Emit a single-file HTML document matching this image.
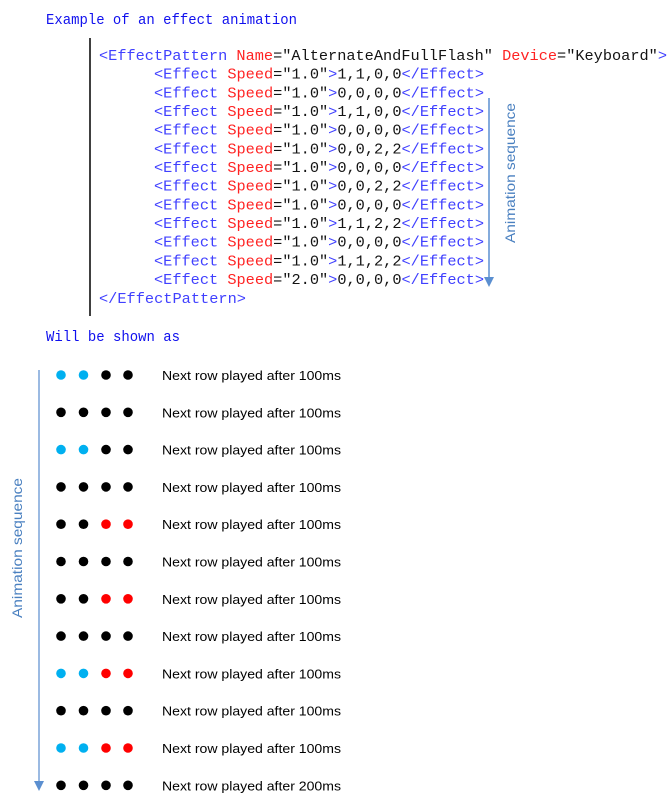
<!DOCTYPE html>
<html><head><meta charset="utf-8"><style>
html,body{margin:0;padding:0;background:#fff;}
svg{display:block;}
.code{font-family:"Liberation Mono",monospace;font-size:15.2px;}
.t{fill:#3030ff}.a{fill:#ff1010}.v{fill:#000}
.lab{font-family:"Liberation Sans",sans-serif;font-size:13px;fill:#000}
.seq{font-family:"Liberation Sans",sans-serif;font-size:14px;fill:#4a80c0}
.hd{font-family:"Liberation Mono",monospace;font-size:15px;fill:#1010ee}
</style></head><body>
<svg width="670" height="796" viewBox="0 0 670 796" xmlns="http://www.w3.org/2000/svg">
<text class="hd" x="46" y="24" textLength="251" lengthAdjust="spacingAndGlyphs">Example of an effect animation</text>
<line x1="90" y1="38" x2="90" y2="316" stroke="#000" stroke-width="1.5"/>
<g class="code" opacity="0.92">
<text x="99" y="60" textLength="568" lengthAdjust="spacingAndGlyphs"><tspan class="t">&lt;EffectPattern</tspan><tspan class="v"> </tspan><tspan class="a">Name</tspan><tspan class="v">="AlternateAndFullFlash" </tspan><tspan class="a">Device</tspan><tspan class="v">="Keyboard"</tspan><tspan class="t">&gt;</tspan></text>
<text x="154" y="78.7" textLength="330" lengthAdjust="spacingAndGlyphs"><tspan class="t">&lt;Effect </tspan><tspan class="a">Speed</tspan><tspan class="v">="1.0"</tspan><tspan class="t">&gt;</tspan><tspan class="v">1,1,0,0</tspan><tspan class="t">&lt;/Effect&gt;</tspan></text>
<text x="154" y="97.3" textLength="330" lengthAdjust="spacingAndGlyphs"><tspan class="t">&lt;Effect </tspan><tspan class="a">Speed</tspan><tspan class="v">="1.0"</tspan><tspan class="t">&gt;</tspan><tspan class="v">0,0,0,0</tspan><tspan class="t">&lt;/Effect&gt;</tspan></text>
<text x="154" y="116" textLength="330" lengthAdjust="spacingAndGlyphs"><tspan class="t">&lt;Effect </tspan><tspan class="a">Speed</tspan><tspan class="v">="1.0"</tspan><tspan class="t">&gt;</tspan><tspan class="v">1,1,0,0</tspan><tspan class="t">&lt;/Effect&gt;</tspan></text>
<text x="154" y="134.7" textLength="330" lengthAdjust="spacingAndGlyphs"><tspan class="t">&lt;Effect </tspan><tspan class="a">Speed</tspan><tspan class="v">="1.0"</tspan><tspan class="t">&gt;</tspan><tspan class="v">0,0,0,0</tspan><tspan class="t">&lt;/Effect&gt;</tspan></text>
<text x="154" y="153.3" textLength="330" lengthAdjust="spacingAndGlyphs"><tspan class="t">&lt;Effect </tspan><tspan class="a">Speed</tspan><tspan class="v">="1.0"</tspan><tspan class="t">&gt;</tspan><tspan class="v">0,0,2,2</tspan><tspan class="t">&lt;/Effect&gt;</tspan></text>
<text x="154" y="172" textLength="330" lengthAdjust="spacingAndGlyphs"><tspan class="t">&lt;Effect </tspan><tspan class="a">Speed</tspan><tspan class="v">="1.0"</tspan><tspan class="t">&gt;</tspan><tspan class="v">0,0,0,0</tspan><tspan class="t">&lt;/Effect&gt;</tspan></text>
<text x="154" y="190.7" textLength="330" lengthAdjust="spacingAndGlyphs"><tspan class="t">&lt;Effect </tspan><tspan class="a">Speed</tspan><tspan class="v">="1.0"</tspan><tspan class="t">&gt;</tspan><tspan class="v">0,0,2,2</tspan><tspan class="t">&lt;/Effect&gt;</tspan></text>
<text x="154" y="209.3" textLength="330" lengthAdjust="spacingAndGlyphs"><tspan class="t">&lt;Effect </tspan><tspan class="a">Speed</tspan><tspan class="v">="1.0"</tspan><tspan class="t">&gt;</tspan><tspan class="v">0,0,0,0</tspan><tspan class="t">&lt;/Effect&gt;</tspan></text>
<text x="154" y="228" textLength="330" lengthAdjust="spacingAndGlyphs"><tspan class="t">&lt;Effect </tspan><tspan class="a">Speed</tspan><tspan class="v">="1.0"</tspan><tspan class="t">&gt;</tspan><tspan class="v">1,1,2,2</tspan><tspan class="t">&lt;/Effect&gt;</tspan></text>
<text x="154" y="246.7" textLength="330" lengthAdjust="spacingAndGlyphs"><tspan class="t">&lt;Effect </tspan><tspan class="a">Speed</tspan><tspan class="v">="1.0"</tspan><tspan class="t">&gt;</tspan><tspan class="v">0,0,0,0</tspan><tspan class="t">&lt;/Effect&gt;</tspan></text>
<text x="154" y="265.3" textLength="330" lengthAdjust="spacingAndGlyphs"><tspan class="t">&lt;Effect </tspan><tspan class="a">Speed</tspan><tspan class="v">="1.0"</tspan><tspan class="t">&gt;</tspan><tspan class="v">1,1,2,2</tspan><tspan class="t">&lt;/Effect&gt;</tspan></text>
<text x="154" y="284" textLength="330" lengthAdjust="spacingAndGlyphs"><tspan class="t">&lt;Effect </tspan><tspan class="a">Speed</tspan><tspan class="v">="2.0"</tspan><tspan class="t">&gt;</tspan><tspan class="v">0,0,0,0</tspan><tspan class="t">&lt;/Effect&gt;</tspan></text>
<text x="99" y="303" textLength="147" lengthAdjust="spacingAndGlyphs" class="t">&lt;/EffectPattern&gt;</text>
</g>
<line x1="489" y1="98" x2="489" y2="279" stroke="#5b8fd0" stroke-width="1.5"/>
<polygon points="484,277 494,277 489,287" fill="#5b8fd0"/>
<text class="seq" transform="translate(515,173) rotate(-90)" text-anchor="middle" textLength="140" lengthAdjust="spacingAndGlyphs">Animation sequence</text>
<text class="hd" x="46" y="341" textLength="134" lengthAdjust="spacingAndGlyphs">Will be shown as</text>
<line x1="39" y1="370" x2="39" y2="783" stroke="#7aa3d8" stroke-width="1.5"/>
<polygon points="34,781 44,781 39,791" fill="#5b8fd0"/>
<text class="seq" transform="translate(22,548) rotate(-90)" text-anchor="middle" textLength="140" lengthAdjust="spacingAndGlyphs">Animation sequence</text>
<g id="rows"></g>
</svg>
<script>
var pats=["BBKK","KKKK","BBKK","KKKK","KKRR","KKKK","KKRR","KKKK","BBRR","KKKK","BBRR","KKKK"];
var col={B:"#00b0f0",K:"#000",R:"#ff0000"};
var xs=[61,83.5,106,128];var g=document.getElementById("rows");var ns="http://www.w3.org/2000/svg";
for(var i=0;i<12;i++){var y=375+i*37.3;
for(var j=0;j<4;j++){var c=document.createElementNS(ns,"circle");c.setAttribute("cx",xs[j]);c.setAttribute("cy",y);c.setAttribute("r",4.8);c.setAttribute("fill",col[pats[i][j]]);g.appendChild(c);}
var t=document.createElementNS(ns,"text");t.setAttribute("class","lab");t.setAttribute("x",162);t.setAttribute("y",y+5);t.setAttribute("textLength",179);t.setAttribute("lengthAdjust","spacingAndGlyphs");t.textContent="Next row played after "+(i==11?"200ms":"100ms");g.appendChild(t);}
</script>
</body></html>
